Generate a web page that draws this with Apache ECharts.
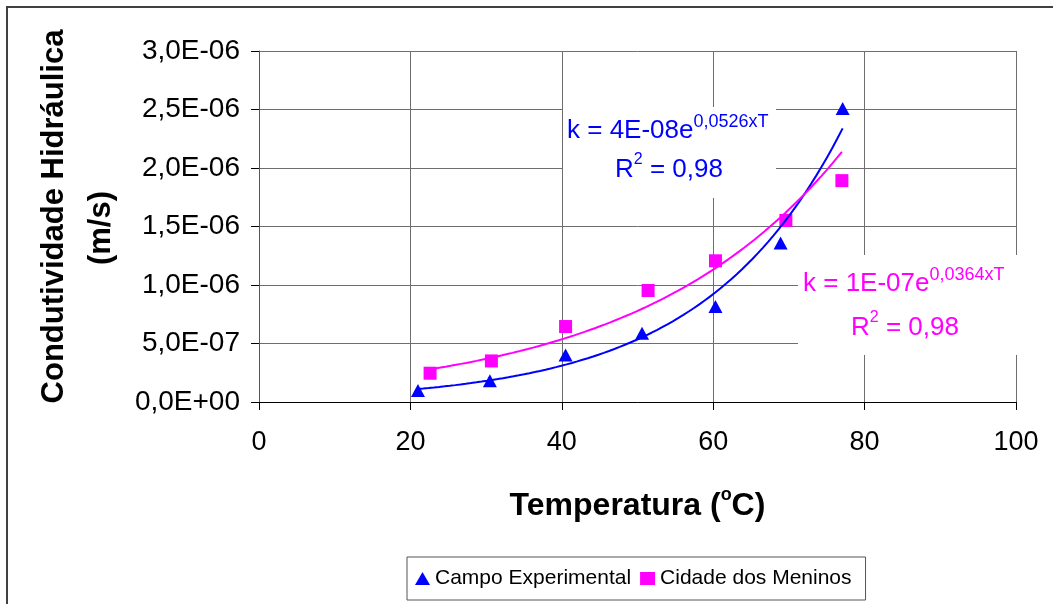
<!DOCTYPE html>
<html>
<head>
<meta charset="utf-8">
<script src="https://cdn.jsdelivr.net/npm/echarts@6/dist/echarts.min.js"></script>
<style>
  html, body { margin: 0; padding: 0; background: #ffffff; }
  #chart { width: 1053px; height: 604px; }
</style>
</head>
<body>
<div id="chart"></div>
<script>
// Hydraulic conductivity (m/s) versus temperature (°C) at two sites
const seriesNames = ['Campo Experimental', 'Cidade dos Meninos'];

const tempCampo = [21.0, 30.5, 40.5, 50.6, 60.3, 68.9, 77.1];
const kCampo    = [0.99e-7, 1.82e-7, 4.02e-7, 5.88e-7, 8.16e-7, 1.359e-6, 2.509e-6];

const tempCidade = [22.6, 30.7, 40.5, 51.4, 60.3, 69.6, 77.0];
const kCidade    = [2.46e-7, 3.51e-7, 6.45e-7, 9.53e-7, 1.207e-6, 1.552e-6, 1.892e-6];

const xTicks = { min: 0, max: 100, interval: 20 };
const yTicks = { min: 0, max: 3e-6, interval: 5e-7 };

const eqCampo  = { k: '4E-08e', exp: '0,0526xT', r2: '0,98' };
const eqCidade = { k: '1E-07e', exp: '0,0364xT', r2: '0,98' };

const FONT = '"Liberation Sans", Arial, sans-serif';

// Exponential least-squares fit (linear regression on ln k), drawn over the data range
function expTrend(xs, ys, steps) {
  const n = xs.length;
  const ls = ys.map(Math.log);
  const mx = xs.reduce((a, b) => a + b, 0) / n;
  const ml = ls.reduce((a, b) => a + b, 0) / n;
  let sxy = 0, sxx = 0;
  for (let i = 0; i < n; i++) {
    sxy += (xs[i] - mx) * (ls[i] - ml);
    sxx += (xs[i] - mx) * (xs[i] - mx);
  }
  const b = sxy / sxx;
  const a = Math.exp(ml - b * mx);
  const x0 = Math.min(...xs), x1 = Math.max(...xs);
  const pts = [];
  for (let i = 0; i <= steps; i++) {
    const x = x0 + (x1 - x0) * i / steps;
    pts.push([x, a * Math.exp(b * x)]);
  }
  return pts;
}

function sciLabel(v) {
  if (Math.abs(v) < 1e-15) return '0,0E+00';
  let e = Math.floor(Math.log10(Math.abs(v)) + 1e-9);
  let m = v / Math.pow(10, e);
  if (Math.abs(m) >= 9.95) { m /= 10; e++; }
  return m.toFixed(1).replace('.', ',') + 'E' + (e < 0 ? '-' : '+') + String(Math.abs(e)).padStart(2, '0');
}

const zip = (xs, ys) => xs.map((x, i) => [x, ys[i]]);

// Trend-line equation: "k = a·e^(b·T)" on the first line, R² on the second
function equationLines(x, y1, x2, y2, eq, color) {
  const main = { fontSize: 26, fontFamily: FONT, fill: color, lineHeight: 36, verticalAlign: 'middle' };
  return [
    { type: 'text', x: x, y: y1, z: 11,
      style: { text: '{m|k = ' + eq.k + '}{s|' + eq.exp + '}', align: 'left', verticalAlign: 'top',
        rich: { m: main, s: { fontSize: 18, fontFamily: FONT, fill: color, lineHeight: 18, verticalAlign: 'top' } } } },
    { type: 'text', x: x2, y: y2, z: 11,
      style: { text: '{m|R}{s|2}{m| = ' + eq.r2 + '}', align: 'left', verticalAlign: 'top',
        rich: { m: main, s: { fontSize: 16, fontFamily: FONT, fill: color, lineHeight: 20, verticalAlign: 'top' } } } }
  ];
}

const chart = echarts.init(document.getElementById('chart'), null, { renderer: 'canvas' });

const option = {
  animation: false,
  backgroundColor: '#ffffff',
  grid: { left: 259, right: 37, top: 51, bottom: 202, containLabel: false },
  xAxis: {
    type: 'value',
    min: xTicks.min, max: xTicks.max, interval: xTicks.interval,
    axisLine: { show: true, onZero: false, lineStyle: { color: '#000000', width: 1 } },
    axisTick: { show: true, inside: false, length: 8, lineStyle: { color: '#000000' } },
    axisLabel: { color: '#000000', fontFamily: FONT, fontSize: 27, margin: 27 },
    splitLine: { show: true, lineStyle: { color: '#6e6e6e', width: 1 } },
    name: '{b|Temperatura (}{s|o}{b|C)}',
    nameLocation: 'middle',
    nameGap: 84,
    nameTextStyle: {
      rich: {
        b: { fontFamily: FONT, fontSize: 32, fontWeight: 'bold', color: '#000000', lineHeight: 40, verticalAlign: 'middle' },
        s: { fontFamily: FONT, fontSize: 18, fontWeight: 'bold', color: '#000000', lineHeight: 24, verticalAlign: 'top' }
      }
    }
  },
  yAxis: {
    type: 'value',
    min: yTicks.min, max: yTicks.max, interval: yTicks.interval,
    axisLine: { show: true, onZero: false, lineStyle: { color: '#555555', width: 1 } },
    axisTick: { show: true, inside: false, length: 8, lineStyle: { color: '#000000' } },
    axisLabel: { color: '#000000', fontFamily: FONT, fontSize: 28, margin: 19, formatter: sciLabel },
    splitLine: { show: true, lineStyle: { color: '#6e6e6e', width: 1 } }
  },
  legend: {
    data: [
      { name: seriesNames[0], icon: 'triangle' },
      { name: seriesNames[1], icon: 'rect' }
    ],
    left: 407, top: 557,
    orient: 'horizontal',
    itemWidth: 15, itemHeight: 13, itemGap: 9,
    padding: [11, 14, 11, 8],
    borderColor: '#555555', borderWidth: 1,
    backgroundColor: '#ffffff',
    textStyle: { fontFamily: FONT, fontSize: 21, color: '#000000' },
    selectedMode: false
  },
  graphic: [
    // chart frame
    { type: 'rect', z: 0, shape: { x: 7, y: 7, width: 1200, height: 800 },
      style: { fill: 'none', stroke: '#404040', lineWidth: 2 } },
    // y axis title
    { type: 'text', x: 54, y: 216.5, rotation: Math.PI / 2, z: 5,
      style: { text: 'Condutividade Hidráulica', fontFamily: FONT, fontSize: 31, fontWeight: 'bold',
               fill: '#000000', align: 'center', verticalAlign: 'middle' } },
    { type: 'text', x: 101, y: 228, rotation: Math.PI / 2, z: 5,
      style: { text: '(m/s)', fontFamily: FONT, fontSize: 31, fontWeight: 'bold',
               fill: '#000000', align: 'center', verticalAlign: 'middle' } },
    // white boxes behind the equations
    { type: 'rect', z: 10, shape: { x: 563, y: 107, width: 213, height: 91 },
      style: { fill: '#ffffff', stroke: 'none' } },
    { type: 'rect', z: 10, shape: { x: 798, y: 255, width: 222, height: 100 },
      style: { fill: '#ffffff', stroke: 'none' } },
    ...equationLines(567, 113, 615, 152, eqCampo, '#0000ff'),
    ...equationLines(803, 266, 851, 310, eqCidade, '#ff00ff')
  ],
  series: [
    {
      name: seriesNames[0], type: 'scatter',
      symbol: 'triangle', symbolSize: [14, 13],
      itemStyle: { color: '#0000ff', opacity: 1 },
      data: zip(tempCampo, kCampo), z: 3
    },
    {
      name: seriesNames[1], type: 'scatter',
      symbol: 'rect', symbolSize: 13,
      itemStyle: { color: '#ff00ff', opacity: 1 },
      data: zip(tempCidade, kCidade), z: 3
    },
    {
      name: 'tendência Campo', type: 'line', showSymbol: false, symbol: 'none', smooth: false,
      lineStyle: { color: '#0000ff', width: 2 },
      data: expTrend(tempCampo, kCampo, 80), z: 4
    },
    {
      name: 'tendência Cidade', type: 'line', showSymbol: false, symbol: 'none', smooth: false,
      lineStyle: { color: '#ff00ff', width: 2 },
      data: expTrend(tempCidade, kCidade, 80), z: 4
    }
  ]
};

chart.setOption(option);
</script>
</body>
</html>
